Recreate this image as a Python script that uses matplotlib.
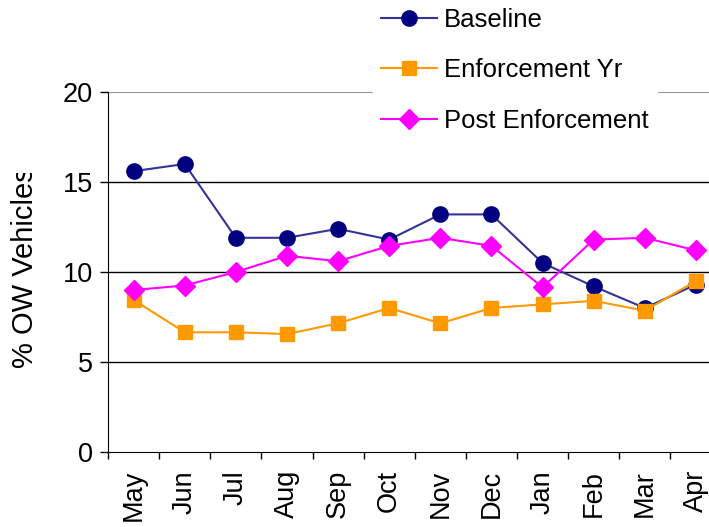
import matplotlib
matplotlib.use("Agg")
import matplotlib.pyplot as plt
from matplotlib.transforms import Bbox

months = ["May", "Jun", "Jul", "Aug", "Sep", "Oct", "Nov", "Dec", "Jan", "Feb", "Mar", "Apr"]
baseline = [15.6, 16.0, 11.9, 11.9, 12.4, 11.8, 13.2, 13.2, 10.5, 9.2, 8.0, 9.3]
enforcement = [8.45, 6.65, 6.65, 6.55, 7.15, 8.0, 7.15, 8.0, 8.2, 8.4, 7.85, 9.5]
post = [9.0, 9.25, 10.0, 10.9, 10.6, 11.45, 11.9, 11.45, 9.15, 11.8, 11.9, 11.2]
yticks = [0, 5, 10, 15, 20]

plt.rcParams['font.family'] = ['Liberation Sans', 'DejaVu Sans']

W, H = 709, 527
fig = plt.figure(figsize=(W / 100, H / 100), dpi=100)
ax = fig.add_axes([108 / W, 1 - 452 / H, (721.5 - 108) / W, (452 - 92) / H])

x = list(range(len(months)))
ax.plot(x, baseline, color="#333399", lw=1.5, marker="o", ms=11,
        mfc="#000080", mec="#000080", label="Baseline", zorder=3)
ax.plot(x, enforcement, color="#FF9900", lw=1.5, marker="s", ms=10,
        mfc="#FF9900", mec="#FF9900", label="Enforcement Yr", zorder=3)
ax.plot(x, post, color="#FF00FF", lw=1.5, marker="D", ms=10,
        mfc="#FF00FF", mec="#FF00FF", label="Post Enforcement", zorder=3)

ax.set_xlim(-0.5, len(months) - 0.5)
ax.set_ylim(0, 20)
ax.set_yticks(yticks)
ax.set_yticklabels([str(v) for v in yticks], fontsize=19.5)
ax.set_xticks([i - 0.5 for i in range(len(months))], minor=False)
ax.set_xticklabels([])
ax.set_xticks(x, minor=True)
ax.set_xticklabels(months, minor=True, rotation=90, fontsize=19.5)
ax.tick_params(axis="x", which="minor", length=0, pad=13)
ax.tick_params(axis="x", which="major", length=5, width=1, direction="out")
ax.tick_params(axis="y", length=6, width=1, direction="out", pad=5)

for v in yticks[1:-1]:
    ax.axhline(v, color="black", lw=1, zorder=1)
ax.axhline(20, color="#999999", lw=1.5, zorder=1)

for s in ["top", "right"]:
    ax.spines[s].set_visible(False)
ax.spines["left"].set_color("black")
ax.spines["bottom"].set_color("black")

yl = fig.text(25 / W, 1 - 368 / H, "% OW Vehicles", rotation=90, fontsize=21,
              ha="center", va="bottom", rotation_mode="default")
yl.set_clip_box(Bbox.from_extents(0, 0, W, H - 173))
yl.set_clip_on(True)

leg = fig.legend(loc="upper left", bbox_to_anchor=(373 / W, 1 - 0.5 / H),
                 fontsize=18.5, frameon=True, facecolor="white", edgecolor="white",
                 framealpha=1, fancybox=False, handlelength=2.2, handletextpad=0.27,
                 labelspacing=1.02, borderpad=0.3, borderaxespad=0)
leg.set_zorder(5)

fig.savefig("out.png", dpi=100)
